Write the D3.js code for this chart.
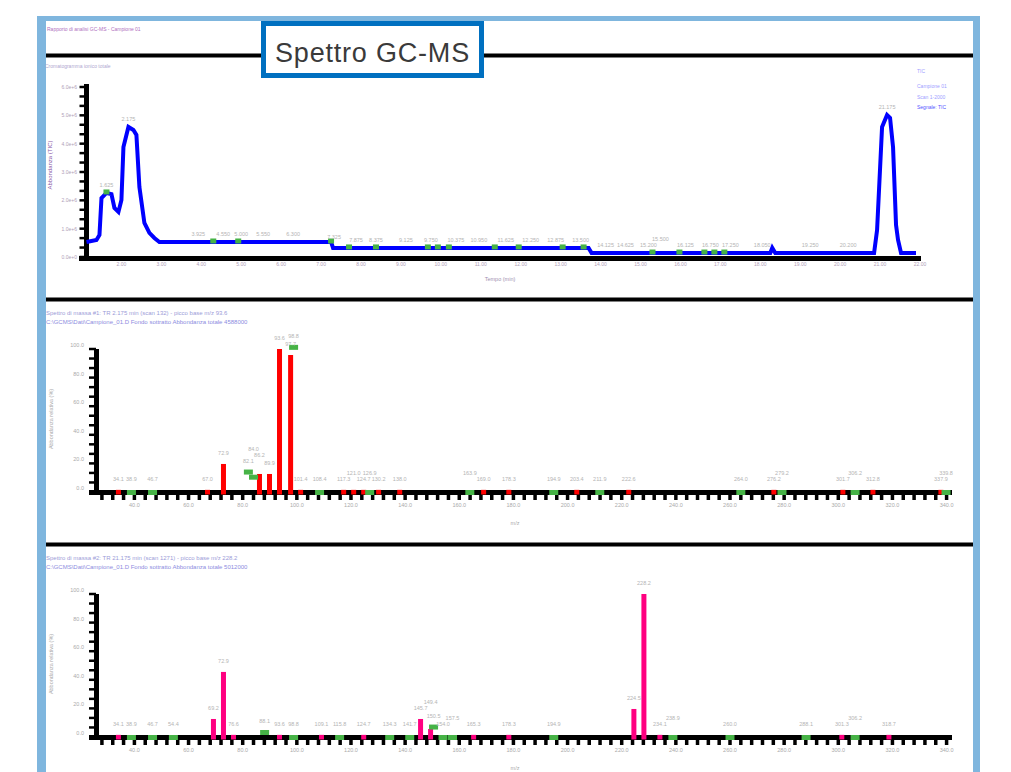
<!DOCTYPE html>
<html>
<head>
<meta charset="utf-8">
<script src="https://cdn.jsdelivr.net/npm/d3@7"></script>
<style>
body{margin:0;background:#fff;}
svg{display:block;font-family:"Liberation Sans",Arial,sans-serif;}
</style>
</head>
<body>
<script>
// --- cromatogramma TIC (tempo in min, abbondanza x10^6)
var ticTime  = [1.125,1.375,1.45,1.5,1.625,1.75,1.825,1.925,2.0,2.05,2.175,2.3,2.375,2.45,2.575,2.7,2.825,2.95,7.25,7.3,13.7,13.775,18.25,18.3,18.375,20.85,20.925,21.05,21.175,21.25,21.325,21.4,21.45,21.525,21.9];
var ticAbund = [0.53,0.60,0.78,2.08,2.26,2.22,1.73,1.59,2.01,3.88,4.59,4.48,4.31,2.47,1.20,0.85,0.67,0.53,0.53,0.32,0.32,0.14,0.14,0.32,0.14,0.14,0.95,4.59,5.01,4.91,3.88,1.13,0.60,0.14,0.14];
var ticLabelTimes = [1.625,2.175,3.925,4.55,5.0,5.55,6.3,7.325,7.875,8.375,9.125,9.75,10.375,10.95,11.625,12.25,12.875,13.5,14.125,14.625,15.2,15.5,16.125,16.75,17.25,18.05,19.25,20.2,21.175];
var ticMarkTimes  = [1.625,4.3,4.925,7.25,7.7,8.375,9.675,9.925,10.2,11.35,11.95,13.05,13.575,15.3,15.975,16.6,16.85,17.1];
var ticXTicks = [2,3,4,5,6,7,8,9,10,11,12,13,14,15,16,17,18,19,20,21,22];
var ticYTicks = [0,1,2,3,4,5,6];
var ticLegend = ["TIC","Campione 01","Scan 1-2000","Segnale: TIC"];

// --- spettro di massa 1 (m/z, abbondanza relativa %)
var ms1Mz  = [34.1,67.0,72.9,86.2,89.9,93.6,97.7,101.4,117.3,121.0,124.7,130.2,138.0,169.0,178.3,203.4,222.6,276.2,301.7,312.8,337.9];
var ms1Int = [1.5,1.5,19.6,12.6,12.6,100,95.8,1.5,1.5,1.5,1.5,1.5,1.5,1.5,1.5,1.5,1.5,1.5,1.5,1.5,1.5];
var ms1RefMz  = [38.9,46.7,82.1,84.0,98.8,108.4,126.9,163.9,194.9,211.9,264.0,279.2,306.2,339.8];
var ms1RefInt = [0,0,14.3,10.7,101.5,0,0,0,0,0,0,0,0,0];

// --- spettro di massa 2
var ms2Mz  = [34.1,69.2,72.9,76.6,93.6,109.1,124.7,145.7,149.4,165.3,178.3,224.5,228.2,234.1,301.3,318.7];
var ms2Int = [1.5,12.6,45.5,1.5,1.5,1.5,1.5,12.6,5.6,1.5,1.5,19.6,100,1.5,1.5,1.5];
var ms2RefMz  = [38.9,46.7,54.4,88.1,98.8,115.8,134.3,141.7,150.5,154.0,157.5,194.9,238.9,260.0,288.1,306.2];
var ms2RefInt = [0,0,0,3.5,0,0,0,0,7.3,0,0,0,0,0,0,0];

var msXTicks = [40,60,80,100,120,140,160,180,200,220,240,260,280,300,320,340];
var msYTicks = [0,20,40,60,80,100];

var W = 1011, H = 772;
var svg = d3.select("body").append("svg").attr("width", W).attr("height", H);
var GREEN = "#46b346", LABEL = "#b4b4b4";

// sposta in alto le etichette che si sovrappongono
function declutter(sel){
  var placed = [];
  sel.each(function(){
    var t = d3.select(this), w = this.getComputedTextLength(),
        x = +t.attr("x"), y = +t.attr("y");
    var moved = true;
    while(moved){
      moved = false;
      for(var i=0;i<placed.length;i++){
        var p = placed[i];
        if(Math.abs(p.x - x) < (p.w + w)/2 + 1 && Math.abs(p.y - y) < 6){
          y = p.y - 6; moved = true;
        }
      }
    }
    t.attr("y", y);
    placed.push({x:x, y:y, w:w});
  });
}

// cornice
svg.append("rect").attr("x",37).attr("y",16).attr("width",943).attr("height",5).attr("fill","#7fb6de");
svg.append("rect").attr("x",37).attr("y",16).attr("width",9).attr("height",H-16).attr("fill","#7fb6de");
svg.append("rect").attr("x",973).attr("y",16).attr("width",7).attr("height",H-16).attr("fill","#7fb6de");

svg.append("text").attr("x",47).attr("y",31).attr("font-size",5).attr("fill","#b070c0")
  .text("Rapporto di analisi GC-MS - Campione 01");

[55.5, 299.5, 544.5].forEach(function(yy){
  svg.append("line").attr("x1",46).attr("x2",973).attr("y1",yy).attr("y2",yy)
    .attr("stroke","#000").attr("stroke-width",4);
});

// titolo
svg.append("rect").attr("x",263.5).attr("y",23.5).attr("width",218).attr("height",52)
  .attr("fill","#fff").attr("stroke","#0070c0").attr("stroke-width",5);
svg.append("text").attr("x",372.5).attr("y",62).attr("text-anchor","middle")
  .attr("font-size",27).attr("letter-spacing",0.8).attr("fill","#3a3a3a").text("Spettro GC-MS");

// ---------------- cromatogramma
var tic = ticTime.map(function(t,i){ return {t:t, v:ticAbund[i]}; });
function ticAt(t){
  for(var i=1;i<tic.length;i++){
    if(t<=tic[i].t){
      var a=tic[i-1], b=tic[i];
      return a.v + (b.v-a.v)*(t-a.t)/(b.t-a.t);
    }
  }
  return tic[tic.length-1].v;
}
var x1 = d3.scaleLinear().domain([1.125, 22.025]).range([86.5, 921]);
var y1 = d3.scaleLinear().domain([0, 6]).range([257, 87]);
var p1 = svg.append("g");

p1.append("text").attr("x",45).attr("y",68).attr("font-size",5).attr("fill","#b0a8d0")
  .text("Cromatogramma ionico totale");

p1.selectAll(".ymin").data(d3.range(0, 6.01, 1/3)).enter().append("line")
  .attr("x1",79.5).attr("x2",86).attr("y1",function(d){return y1(d);}).attr("y2",function(d){return y1(d);})
  .attr("stroke","#000").attr("stroke-width",2.5);
p1.append("line").attr("x1",86.5).attr("x2",86.5).attr("y1",84).attr("y2",261)
  .attr("stroke","#000").attr("stroke-width",5);
p1.append("line").attr("x1",79).attr("x2",921).attr("y1",258.5).attr("y2",258.5)
  .attr("stroke","#000").attr("stroke-width",5);

p1.selectAll(".ylab").data(ticYTicks).enter().append("text")
  .attr("x",77).attr("y",function(d){return y1(d)+2;}).attr("text-anchor","end")
  .attr("font-size",5).attr("fill","#b0a0b8").text(function(d){return d3.format(".1e")(d*1e6);});
p1.selectAll(".xlab").data(ticXTicks).enter().append("text")
  .attr("x",function(d){return x1(d);}).attr("y",266).attr("text-anchor","middle")
  .attr("font-size",5).attr("fill","#b0a0b8").text(function(d){return d3.format(".2f")(d);});
p1.append("text").attr("x",500).attr("y",281).attr("text-anchor","middle")
  .attr("font-size",5.5).attr("fill","#a090b0").text("Tempo (min)");
p1.append("text").attr("transform","translate(52,165) rotate(-90)").attr("text-anchor","middle")
  .attr("font-size",6).attr("fill","#8a5aa8").text("Abbondanza (TIC)");

p1.selectAll(".leg").data(ticLegend).enter().append("text")
  .attr("x",917).attr("y",function(d,i){return [73,88,99,109][i];})
  .attr("font-size",5).attr("fill",function(d,i){return i===3 ? "#5555ff" : "#a0a0ff";}).text(function(d){return d;});

var line = d3.line().x(function(d){return x1(d.t);}).y(function(d){return y1(d.v);});
p1.append("path").datum(tic).attr("d",line).attr("fill","none")
  .attr("stroke","#0000ff").attr("stroke-width",4).attr("stroke-linejoin","miter");

p1.selectAll(".mk").data(ticMarkTimes).enter().append("rect")
  .attr("x",function(d){return x1(d)-3;}).attr("y",function(d){return y1(ticAt(d))-3.5;})
  .attr("width",6).attr("height",5).attr("fill",GREEN);

declutter(p1.selectAll(".pl").data(ticLabelTimes).enter().append("text")
  .attr("x",function(d){return x1(d);})
  .attr("y",function(d){return y1(Math.max(ticAt(d-0.05),ticAt(d),ticAt(d+0.05)))-6;})
  .attr("text-anchor","middle").attr("font-size",5.5).attr("fill",LABEL)
  .text(function(d){return d3.format(".3f")(d);}));

// ---------------- spettri di massa
function drawSpectrum(oy, mz, inten, refMz, refInt, color, header){
  var x = d3.scaleLinear().domain([26, 342]).range([96.5, 952]);
  var y = d3.scaleLinear().domain([0, 100]).range([oy + 492, oy + 349]);
  var g = svg.append("g");

  header.forEach(function(t,i){
    g.append("text").attr("x",46).attr("y",oy+315+i*9).attr("font-size",6)
      .attr("fill", i===0 ? "#9c9cd8" : "#8c8ce0").text(t);
  });

  g.selectAll(".ymin").data(d3.range(0, 100.1, 20/3)).enter().append("line")
    .attr("x1",89).attr("x2",96).attr("y1",function(d){return y(d);}).attr("y2",function(d){return y(d);})
    .attr("stroke","#000").attr("stroke-width",2.5);
  g.append("line").attr("x1",96.5).attr("x2",96.5).attr("y1",oy+349).attr("y2",oy+495)
    .attr("stroke","#000").attr("stroke-width",5);
  g.append("line").attr("x1",89).attr("x2",952).attr("y1",oy+492.5).attr("y2",oy+492.5)
    .attr("stroke","#000").attr("stroke-width",5);
  g.selectAll(".xmin").data(d3.range(28, 341, 4)).enter().append("line")
    .attr("x1",function(d){return x(d);}).attr("x2",function(d){return x(d);})
    .attr("y1",oy+494).attr("y2",oy+500).attr("stroke","#000").attr("stroke-width",3.5);

  g.selectAll(".ylab").data(msYTicks).enter().append("text")
    .attr("x",84).attr("y",function(d){return y(d)-2;}).attr("text-anchor","end")
    .attr("font-size",5.5).attr("fill","#aaa").text(function(d){return d3.format(".1f")(d);});
  g.selectAll(".xlab").data(msXTicks).enter().append("text")
    .attr("x",function(d){return x(d);}).attr("y",oy+507).attr("text-anchor","middle")
    .attr("font-size",5.5).attr("fill","#aaa").text(function(d){return d3.format(".1f")(d);});
  g.append("text").attr("x",515).attr("y",oy+525).attr("text-anchor","middle")
    .attr("font-size",5.5).attr("fill","#aaa").text("m/z");
  g.append("text").attr("transform","translate(53,"+(oy+419)+") rotate(-90)").attr("text-anchor","middle")
    .attr("font-size",5.5).attr("fill","#aaa").text("Abbondanza relativa (%)");

  var bars = mz.map(function(m,i){ return {m:m, v:inten[i]}; });
  var refs = refMz.map(function(m,i){ return {m:m, v:refInt[i]}; });

  g.selectAll(".bar").data(bars).enter().append("rect")
    .attr("x",function(d){return x(d.m)-2.5;}).attr("y",function(d){return y(d.v);})
    .attr("width",5).attr("height",function(d){return y(0)+2.5-y(d.v);}).attr("fill",color);
  g.selectAll(".ref").data(refs).enter().append("rect")
    .attr("x",function(d){return x(d.m)-4.5;}).attr("y",function(d){return y(d.v)-2;})
    .attr("width",9).attr("height",5).attr("fill",GREEN);

  var labs = bars.concat(refs).sort(function(a,b){ return b.v - a.v || a.m - b.m; });
  declutter(g.selectAll(".lab").data(labs).enter().append("text")
    .attr("x",function(d){return x(d.m);}).attr("y",function(d){return y(Math.max(d.v,1.5))-9;})
    .attr("text-anchor","middle").attr("font-size",5.5).attr("fill",LABEL)
    .text(function(d){return d3.format(".1f")(d.m);}));
}

drawSpectrum(0, ms1Mz, ms1Int, ms1RefMz, ms1RefInt, "#ff0000",
  ["Spettro di massa #1: TR 2.175 min (scan 132) - picco base m/z 93.6",
   "C:\\GCMS\\Dati\\Campione_01.D   Fondo sottratto   Abbondanza totale 4588000"]);
drawSpectrum(245, ms2Mz, ms2Int, ms2RefMz, ms2RefInt, "#ff0080",
  ["Spettro di massa #2: TR 21.175 min (scan 1271) - picco base m/z 228.2",
   "C:\\GCMS\\Dati\\Campione_01.D   Fondo sottratto   Abbondanza totale 5012000"]);
</script>
</body>
</html>
